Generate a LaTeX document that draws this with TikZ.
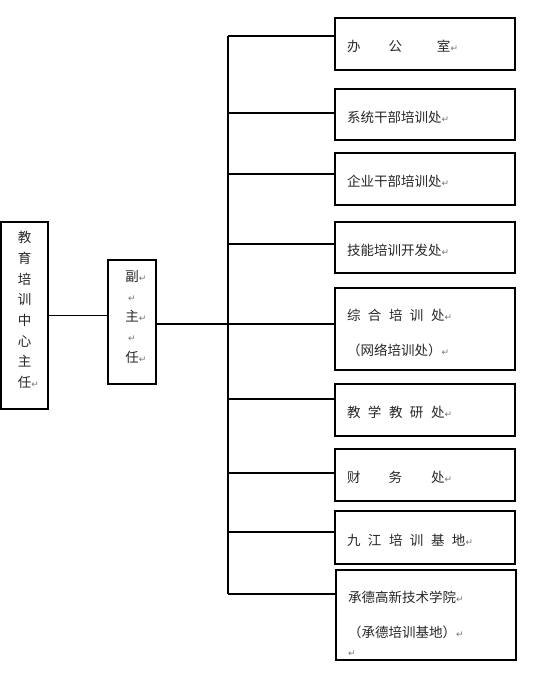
\documentclass[tikz,border=0pt]{standalone}
\usepackage{fontspec}
\setmainfont{Noto Sans CJK SC}
\newfontfamily\retfont{DejaVu Sans}
\usepackage{xcolor}
\usepackage{tikz}
\usetikzlibrary{positioning}
\newcommand\ret{{\retfont\fontsize{9}{9}\selectfont\textcolor{black!55}{↵}}}
\tikzset{
  unit/.style={draw,line width=1.1pt,outer sep=0pt,minimum width=180pt,text width=156pt,align=left,inner sep=0pt,font=\fontsize{13.5}{35}\selectfont,text=black!85},
  one/.style={unit,text height=16pt,text depth=1pt},
  head/.style={draw,line width=1.1pt,outer sep=0pt,align=center,inner sep=0pt,text=black!85,anchor=north west},
  lnk/.style={line width=1.1pt},
}
\begin{document}
\begin{tikzpicture}[x=1pt,y=-1pt]
  \useasboundingbox (0,0) rectangle (543,675);
  \node[head,minimum width=47pt,minimum height=187pt,font=\fontsize{13.5}{20.7}\selectfont] (zr) at (1,222) {教\\育\\培\\训\\中\\心\\主\\任\rlap{\ret}\rule[-12pt]{0pt}{12pt}};
  \node[head,minimum width=48pt,minimum height=124pt,font=\fontsize{13.5}{20.25}\selectfont] (fz) at (108,260) {副\rlap{\ret}\\\ret\\主\rlap{\ret}\\\ret\\任\rlap{\ret}\rule[-12pt]{0pt}{12pt}};
  \node[one,minimum height=52pt,anchor=north west] (b1) at (335,18) {办\hspace{28pt}公\hspace{35pt}室\ret};
  \node[one,minimum height=51pt,below=19pt of b1] (b2) {系统干部培训处\ret};
  \node[one,minimum height=52pt,below=13pt of b2] (b3) {企业干部培训处\ret};
  \node[one,minimum height=51pt,below=17pt of b3] (b4) {技能培训开发处\ret};
  \node[unit,minimum height=82pt,below=15pt of b4] (b5) {\rule{0pt}{19.5pt}综\hspace{7.5pt}合\hspace{7.5pt}培\hspace{7.5pt}训\hspace{7.5pt}处\ret\\（网络培训处）\ret};
  \node[one,minimum height=52pt,below=14pt of b5] (b6) {教\hspace{7.5pt}学\hspace{7.5pt}教\hspace{7.5pt}研\hspace{7.5pt}处\ret};
  \node[one,minimum height=52pt,below=13pt of b6] (b7) {财\hspace{28pt}务\hspace{29pt}处\ret};
  \node[one,minimum height=53pt,below=10pt of b7] (b8) {九\hspace{7.5pt}江\hspace{7.5pt}培\hspace{7.5pt}训\hspace{7.5pt}基\hspace{7.5pt}地\ret};
  \node[unit,minimum height=90pt,below=6pt of b8,xshift=1pt] (b9) {\rule{0pt}{28.5pt}承德高新技术学院\ret\\（承德培训基地）\ret\\[-16pt]{\fontsize{5}{5}\selectfont\ret}};
  \foreach \i/\y in {1/36,2/113,3/174,4/244,5/324,6/399,7/473,8/532,9/594}{
    \coordinate (j\i) at (228,\y);
    \draw[lnk] (j\i) -- (j\i -| b\i.west);
  }
  \draw[lnk] (j1) -- (j9);
  \draw[lnk] (zr.east) -- (zr.east -| fz.west);
  \draw[lnk] (j5 -| fz.east) -- (j5);
\end{tikzpicture}
\end{document}
